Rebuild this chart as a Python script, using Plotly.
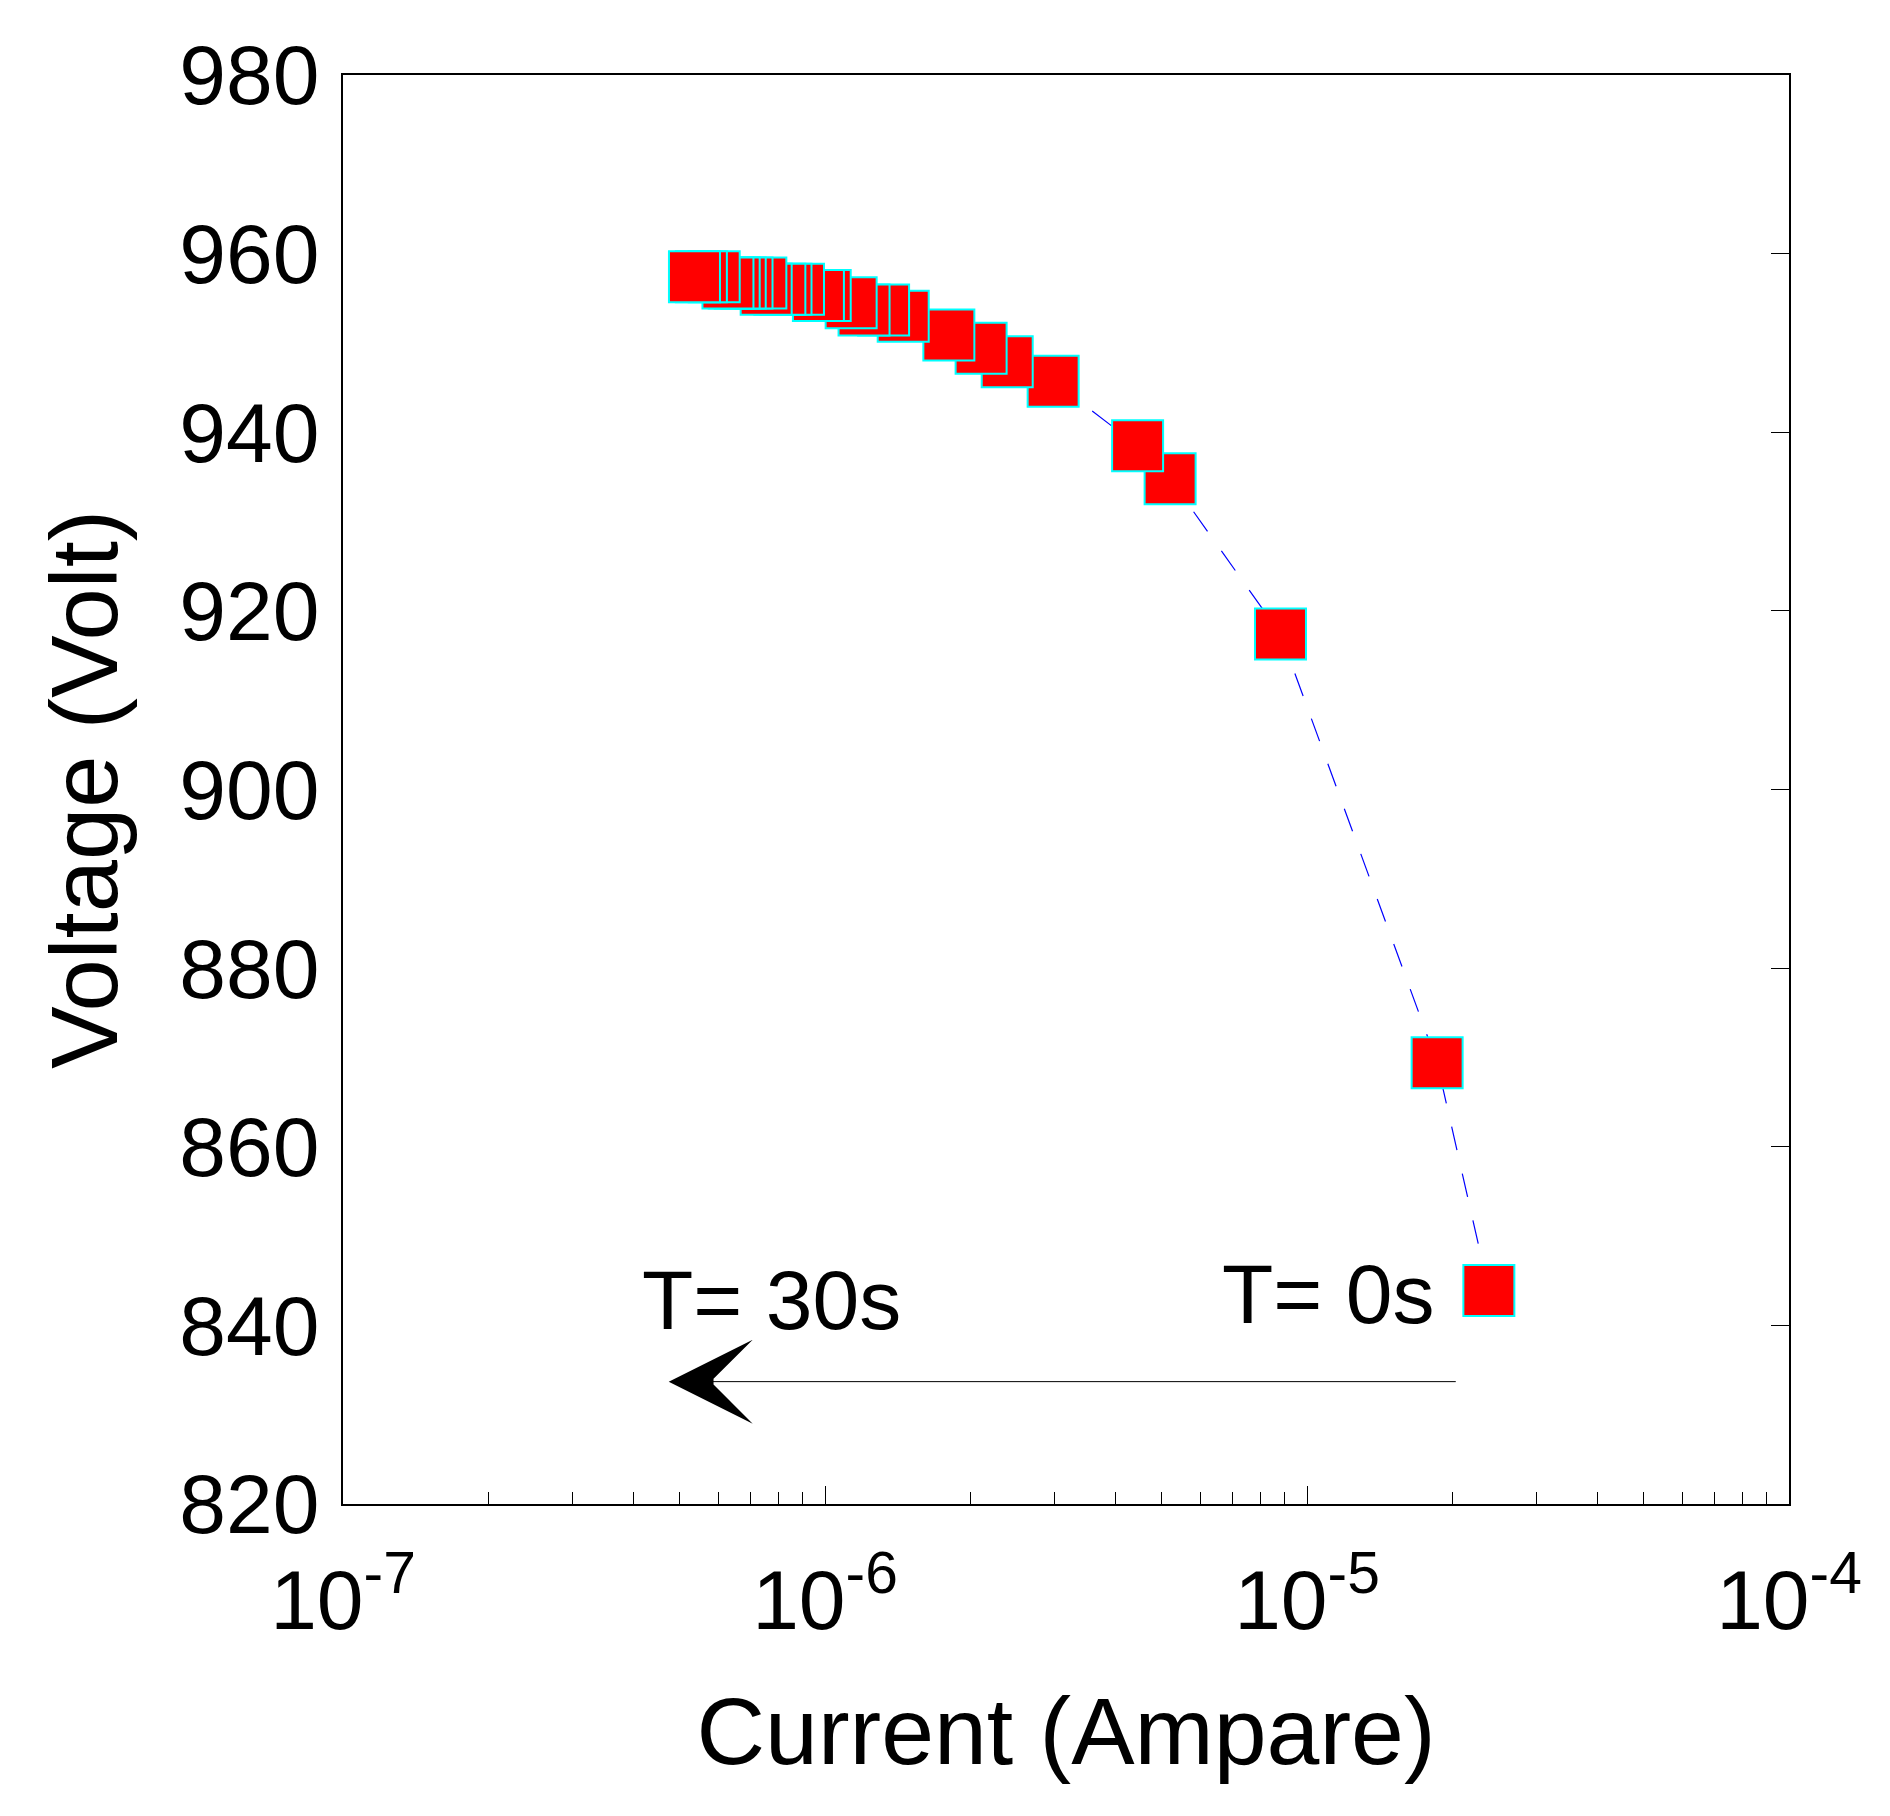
import math
import plotly.graph_objects as go

# measured from T=0s (right) to T=30s (left)
current = [2.384e-5, 1.862e-5, 8.81e-6, 5.20e-6, 4.452e-6, 2.974e-6, 2.388e-6,
           2.108e-6, 1.807e-6, 1.453e-6, 1.323e-6, 1.205e-6, 1.133e-6, 1.001e-6,
           9.69e-7, 8.81e-7, 8.30e-7, 8.06e-7, 7.55e-7, 7.36e-7, 6.89e-7,
           6.67e-7, 6.48e-7, 6.29e-7, 5.89e-7, 5.54e-7, 5.36e-7]
voltage = [843.9, 869.4, 917.4, 934.8, 938.5, 945.7, 947.9,
           949.4, 950.9, 953.0, 953.7, 953.7, 954.5, 955.3,
           955.3, 956.0, 956.0, 956.0, 956.0, 956.7, 956.7,
           956.7, 956.7, 956.7, 957.4, 957.4, 957.4]

x_ticks = [1e-7, 1e-6, 1e-5, 1e-4]
x_ticktext = ["10<sup>-7</sup>", "10<sup>-6</sup>", "10<sup>-5</sup>", "10<sup>-4</sup>"]
x_minor = [k * 10.0 ** e for e in (-7, -6, -5) for k in range(2, 10)]
y_ticks = [820, 840, 860, 880, 900, 920, 940, 960, 980]

arrow_tail = (2.05e-5, 833.7)
arrow_head = (4.74e-7, 833.7)
label_30s = (4.14e-7, 842.8)
label_0s = (6.61e-6, 843.5)

FONT = "Liberation Sans, Arial, Helvetica, sans-serif"

fig = go.Figure()
fig.add_trace(go.Scatter(
    x=current, y=voltage,
    mode="lines+markers",
    line=dict(color="#0000ff", width=1.2, dash="24px,24px"),
    marker=dict(symbol="square", size=51, color="#ff0000",
                line=dict(color="#00ffff", width=2)),
    showlegend=False,
))
# empty trace so the right-hand tick axis is drawn
fig.add_trace(go.Scatter(x=[], y=[], yaxis="y2", showlegend=False, hoverinfo="skip"))

fig.add_annotation(
    x=math.log10(arrow_head[0]), y=arrow_head[1],
    ax=math.log10(arrow_tail[0]), ay=arrow_tail[1],
    xref="x", yref="y", axref="x", ayref="y",
    text="", showarrow=True, arrowhead=3, arrowsize=14, arrowwidth=1,
    arrowcolor="black",
)
fig.add_annotation(x=math.log10(label_30s[0]), y=label_30s[1], xref="x", yref="y",
                   text="T= 30s", showarrow=False, xanchor="left", yanchor="middle",
                   font=dict(size=84, color="black", family=FONT))
fig.add_annotation(x=math.log10(label_0s[0]), y=label_0s[1], xref="x", yref="y",
                   text="T= 0s", showarrow=False, xanchor="left", yanchor="middle",
                   font=dict(size=84, color="black", family=FONT))

# page body adds an 8px offset, so the figure is 8px smaller and margins shifted
fig.update_layout(
    width=1882, height=1808,
    margin=dict(l=335, r=101, t=67, b=312),
    plot_bgcolor="white", paper_bgcolor="white",
    font=dict(family=FONT, color="black"),
    xaxis=dict(
        type="log", range=[-7, -4],
        tickmode="array", tickvals=x_ticks, ticktext=x_ticktext,
        ticks="inside", ticklen=18, tickwidth=1.2, tickcolor="black",
        minor=dict(tickmode="array", tickvals=x_minor, ticks="inside",
                   ticklen=12, tickwidth=1, tickcolor="black", showgrid=False),
        tickfont=dict(size=84), ticklabelstandoff=22,
        showgrid=False, zeroline=False,
        showline=True, linecolor="black", linewidth=1.5, mirror=True,
        title=dict(text="Current (Ampare)", font=dict(size=95), standoff=52),
    ),
    yaxis=dict(
        range=[820, 980], tickmode="array", tickvals=y_ticks,
        ticks="", tickfont=dict(size=84), ticklabelstandoff=5,
        showgrid=False, zeroline=False,
        showline=True, linecolor="black", linewidth=1.5, mirror=True,
        title=dict(text="Voltage (Volt)", font=dict(size=94), standoff=30),
    ),
    yaxis2=dict(
        range=[820, 980], overlaying="y", side="right", anchor="x",
        tickmode="array", tickvals=y_ticks, showticklabels=False,
        ticks="inside", ticklen=18, tickwidth=1.2, tickcolor="black",
        showgrid=False, zeroline=False, showline=False,
    ),
)

fig.write_html("out.html")
